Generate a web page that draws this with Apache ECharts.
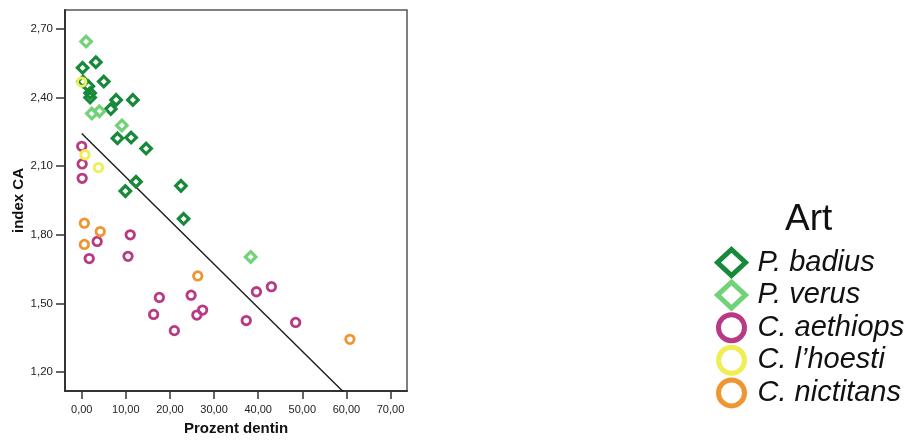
<!DOCTYPE html>
<html>
<head>
<meta charset="utf-8">
<script src="https://cdn.jsdelivr.net/npm/echarts@6/dist/echarts.min.js"></script>
<style>
html,body{margin:0;padding:0;background:#fff;}
#c{width:908px;height:441px;}
</style>
</head>
<body>
<div id="c"></div>
<script>
// [Prozent dentin, index CA]
var pBadius = [[0.2,2.53],[3.2,2.555],[0.3,2.47],[1.5,2.45],[1.9,2.42],[1.9,2.40],[5.0,2.47],[7.8,2.39],[11.6,2.39],[6.6,2.35],[8.1,2.222],[11.2,2.225],[14.6,2.177],[12.3,2.032],[9.9,1.991],[22.5,2.014],[23.1,1.870]];
var pVerus = [[1.0,2.645],[2.3,2.33],[4.0,2.34],[9.1,2.278],[38.3,1.703]];
var cAethiops = [[0.0,2.187],[0.1,2.11],[0.1,2.047],[3.5,1.771],[11.0,1.80],[1.7,1.696],[10.5,1.706],[17.6,1.526],[24.8,1.536],[39.6,1.551],[43.0,1.573],[16.3,1.452],[26.1,1.449],[27.4,1.471],[37.3,1.425],[48.5,1.417],[21.0,1.381]];
var cLhoesti = [[0.0,2.468],[0.75,2.15],[3.8,2.094]];
var cNictitans = [[0.6,1.851],[4.2,1.814],[0.6,1.758],[26.3,1.62],[60.8,1.343]];
var fitLine = [[0.0,2.243],[60.8,1.085]];
var xTicks = [0,10,20,30,40,50,60,70];
var yTicks = [1.2,1.5,1.8,2.1,2.4,2.7];
var speciesNames = ['P. badius','P. verus','C. aethiops','C. l\u2019hoesti','C. nictitans'];
var speciesColors = ['#17893b','#72d278','#b93a84','#f0ee55','#f09630'];
var speciesSymbols = ['diamond','diamond','circle','circle','circle'];
var speciesData = [pBadius,pVerus,cAethiops,cLhoesti,cNictitans];

function fmt(v){ return Number(v).toFixed(2).replace('.', ','); }

var series = speciesData.map(function(d,i){
  var isD = speciesSymbols[i]==='diamond';
  return {
    name: speciesNames[i],
    type: 'scatter',
    data: d,
    symbol: speciesSymbols[i],
    symbolSize: isD ? 10.5 : 8.5,
    itemStyle: {color: 'rgba(255,255,255,0)', borderColor: speciesColors[i], borderWidth: isD ? 3.2 : 2.8, opacity: 1},
    emphasis: {disabled: true},
    z: 3
  };
});
series.push({
  name: 'fit',
  type: 'line',
  data: fitLine,
  symbol: 'none',
  lineStyle: {color: '#1a1a1a', width: 1.4},
  clip: true,
  silent: true,
  z: 2
});

var chart = echarts.init(document.getElementById('c'));
chart.setOption({
  animation: false,
  backgroundColor: '#fff',
  title: {
    text: 'Art', left: 785, top: 201, padding: 0,
    textStyle: {fontFamily: 'Liberation Sans', fontSize: 37, fontWeight: 'normal', color: '#111'}
  },
  legend: {
    data: speciesNames,
    orient: 'vertical',
    left: 715, top: 247,
    itemWidth: 28, itemHeight: 26, itemGap: 1.6,
    symbolKeepAspect: true,
    padding: 0,
    itemStyle: {borderWidth: 5, opacity: 1},
    selectedMode: false,
    textStyle: {fontFamily: 'Liberation Sans', fontStyle: 'italic', fontSize: 29, color: '#111', padding: [0,0,0,7]}
  },
  grid: {
    left: 65, right: 501, top: 10, bottom: 48,
    show: true, borderColor: '#555', borderWidth: 1.5, backgroundColor: 'rgba(0,0,0,0)'
  },
  xAxis: {
    type: 'value', min: -3.79, max: 73.74,
    name: 'Prozent dentin', nameLocation: 'middle', nameGap: 30,
    nameTextStyle: {fontFamily: 'Liberation Sans', fontSize: 15, fontWeight: 'bold', color: '#111'},
    axisLine: {show: true, onZero: false, lineStyle: {color: '#333', width: 2}},
    axisTick: {show: true, length: 8, customValues: xTicks, lineStyle: {color: '#333', width: 1.5}},
    axisLabel: {customValues: xTicks, formatter: fmt, margin: 13, fontFamily: 'Liberation Sans', fontSize: 11, color: '#222'},
    splitLine: {show: false}
  },
  yAxis: {
    type: 'value', min: 1.117, max: 2.783,
    name: 'index CA', nameLocation: 'middle', nameGap: 36,
    nameTextStyle: {fontFamily: 'Liberation Sans', fontSize: 15, fontWeight: 'bold', color: '#111'},
    axisLine: {show: true, onZero: false, lineStyle: {color: '#333', width: 2}},
    axisTick: {show: true, length: 9, customValues: yTicks, lineStyle: {color: '#333', width: 1.5}},
    axisLabel: {customValues: yTicks, formatter: fmt, margin: 12, fontFamily: 'Liberation Sans', fontSize: 11.5, color: '#222'},
    splitLine: {show: false}
  },
  series: series
});
</script>
</body>
</html>
